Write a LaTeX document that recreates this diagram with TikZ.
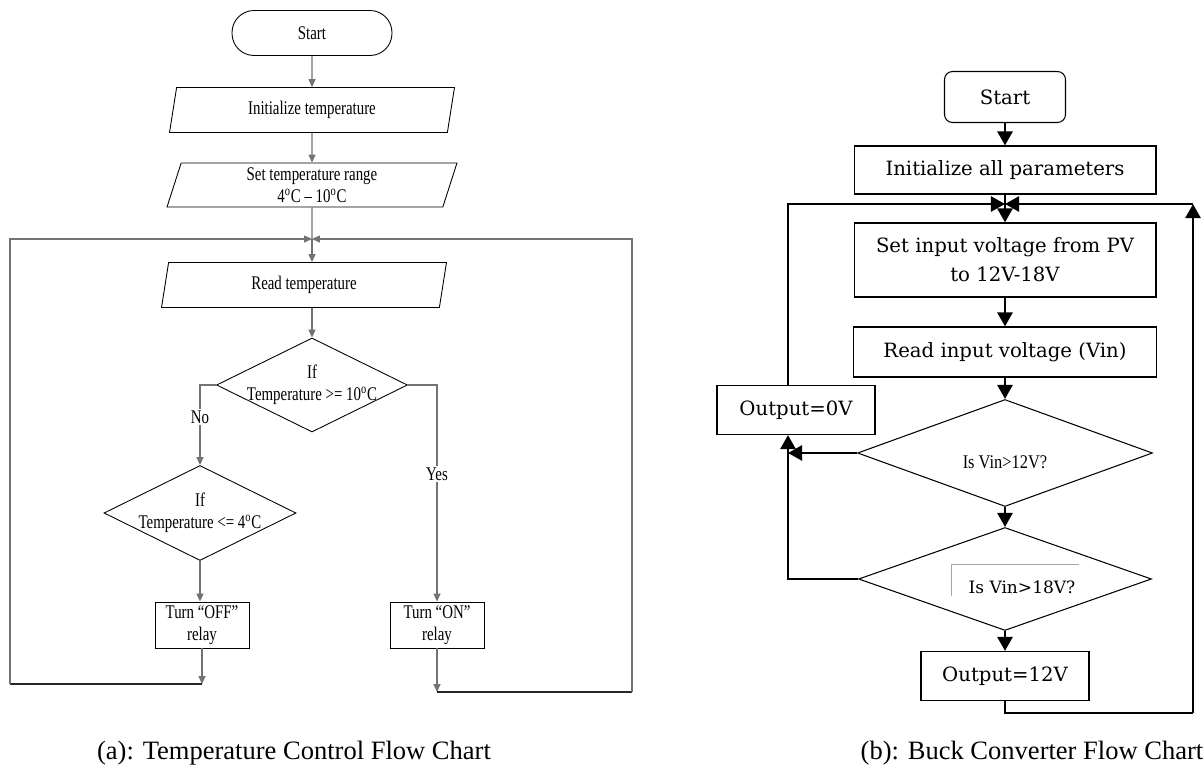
\documentclass[tikz,border=0pt]{standalone}
\usepackage{fontspec}
\setmainfont{Liberation Serif}
\newfontfamily\narrowfont[FakeStretch=0.77]{Liberation Serif}
\newfontfamily\vinfont[FakeStretch=0.85]{Liberation Serif}
\newfontfamily\buckfont{DejaVu Serif}
\usetikzlibrary{arrows.meta,shapes.geometric}

\tikzset{
  tbox/.style={draw,line width=0.5pt,align=center,inner sep=0pt,
    font=\narrowfont\fontsize{11}{12.5}\selectfont},
  tio/.style={tbox,trapezium,trapezium left angle=68,trapezium right angle=112,
    trapezium stretches body},
  tif/.style={tbox,diamond},
  tiftext/.style={align=center,font=\narrowfont\fontsize{11}{12.5}\selectfont},
  tlbl/.style={fill=white,inner sep=1pt,font=\narrowfont\fontsize{11}{12.5}\selectfont},
  tline/.style={draw=black!55,line width=0.6pt},
  tarrow/.style={tline,-{Triangle[width=4pt,length=4.5pt]}},
  bbox/.style={draw,line width=0.6pt,align=center,inner sep=0pt,
    font=\buckfont\fontsize{11.2}{16.4}\selectfont},
  bif/.style={bbox,diamond},
  bline/.style={line width=1.6pt},
  barrow/.style={bline,-{Triangle[width=8.5pt,length=8pt]}},
  caption/.style={font=\fontsize{15.1}{17}\selectfont}
}

\begin{document}
\begin{tikzpicture}

\begin{scope}[x=0.02cm,y=-0.02cm]
\useasboundingbox (0,0) rectangle (1204,767);

    % (a) temperature control
    \node[tbox,rounded corners=0.44cm,minimum width=3.2cm,minimum height=0.9cm] (tstart) at (312,33) {Start};
    \node[tio,minimum width=5.7cm,minimum height=0.9cm] (tinit) at (312,110) {Initialize temperature};
    \node[tio,minimum width=5.8cm,minimum height=0.88cm] (trange) at (312,185) {Set temperature range\\4\textsuperscript{o}C – 10\textsuperscript{o}C};
    \coordinate (tjoin) at (312,239);
    \node[tio,minimum width=5.7cm,minimum height=0.9cm] (tread) at (304,285) {Read temperature};
    \node[tif,minimum width=3.82cm,minimum height=1.88cm,
      label={[tiftext]center:If\\Temperature >= 10\textsuperscript{o}C}] (tif1) at (312,385) {};
    \node[tif,minimum width=3.84cm,minimum height=1.9cm,
      label={[tiftext]center:If\\Temperature <= 4\textsuperscript{o}C}] (tif2) at (200,513) {};
    \node[tbox,minimum width=1.88cm,minimum height=0.92cm] (toff) at (202,625) {Turn “OFF”\\relay};
    \node[tbox,minimum width=1.88cm,minimum height=0.92cm] (ton) at (437,625) {Turn “ON”\\relay};
    \coordinate (toffend) at (202,684);
    \coordinate (tleft) at (10,684);
    \coordinate (tonend) at (437,692);
    \coordinate (tright) at (632,692);

    \draw[tarrow] (tstart) -- (tinit);
    \draw[tarrow] (tinit) -- (trange);
    \draw[tline] (trange) -- (tjoin);
    \draw[tarrow] (tjoin) -- (tjoin |- tread.north);
    \draw[tarrow] (tread.south -| tjoin) -- (tif1);
    \draw[tarrow] (tif1.west) -| node[tlbl,pos=0.70] {No} (tif2.north);
    \draw[tarrow] (tif1.east) -| node[tlbl,pos=0.706] {Yes} (ton.north);
    \draw[tarrow] (tif2.south) -- (tif2.south |- toff.north);
    \draw[tarrow] (toff) -- (toffend);
    \draw[tline,draw=black!85] (toffend) -- (tleft);
    \draw[tarrow] (tleft) |- (tjoin);
    \draw[tarrow] (ton) -- (tonend);
    \draw[tline,draw=black!85] (tonend) -- (tright);
    \draw[tarrow] (tright) |- (tjoin);

    % (b) buck converter
    \node[bbox,rounded corners=0.16cm,minimum width=2.42cm,minimum height=1.02cm] (bstart) at (1005,97) {Start};
    \node[bbox,minimum width=6.04cm,minimum height=0.96cm] (binit) at (1005,170) {Initialize all parameters};
    \coordinate (bjoin) at (1005,204);
    \node[bbox,minimum width=6.04cm,minimum height=1.48cm] (bset) at (1005,260) {Set input voltage from PV\\to 12V-18V};
    \node[bbox,minimum width=6.06cm,minimum height=1.0cm] (bread) at (1005,352) {Read input voltage (Vin)};
    \node[bif,minimum width=5.9cm,minimum height=2.14cm,
      label={[font=\vinfont\fontsize{11}{12}\selectfont,yshift=-0.18cm]center:Is Vin>12V?}] (bif1) at (1005,453) {};
    \node[bif,minimum width=5.86cm,minimum height=2.06cm,
      label={[font=\buckfont\fontsize{9.7}{11}\selectfont,xshift=0.34cm,yshift=-0.16cm]center:Is Vin>18V?}] (bif2) at (1005,579) {};
    \node[bbox,minimum width=3.36cm,minimum height=0.98cm] (bout12) at (1005,676) {Output=12V};
    \node[bbox,minimum width=3.16cm,minimum height=0.98cm] (bout0) at (796,410) {Output=0V};
    \coordinate (brail) at (788,579);
    \coordinate (bright) at (1193,713);

    \draw[black!35,line width=0.4pt] (1079,564) -- (951,564) -- (951,596);

    \draw[barrow] (bstart) -- (binit);
    \draw[bline] (binit) -- (bjoin);
    \draw[barrow] (bjoin) -- (bset);
    \draw[barrow] (bset) -- (bread);
    \draw[barrow] (bread) -- (bif1);
    \draw[barrow] (bif1) -- (bif2);
    \draw[barrow] (bif2) -- (bout12);
    \draw[barrow] (bif1.west) -- (bif1.west -| brail);
    \draw[barrow] (bif2.west) -- (brail) -- (bout0.south -| brail);
    \draw[barrow] (bout0.north -| brail) |- (bjoin);
    \draw[bline] (bout12) |- (bright);
    \draw[barrow] (bright) -- (bright |- bjoin);
    \draw[barrow] (bright |- bjoin) -- (bjoin);

    \node[caption] (capa) at (294,753) {(a): Temperature Control Flow Chart};
    \node[caption] (capb) at (1032,753) {(b): Buck Converter Flow Chart};
\end{scope}

\end{tikzpicture}
\end{document}
